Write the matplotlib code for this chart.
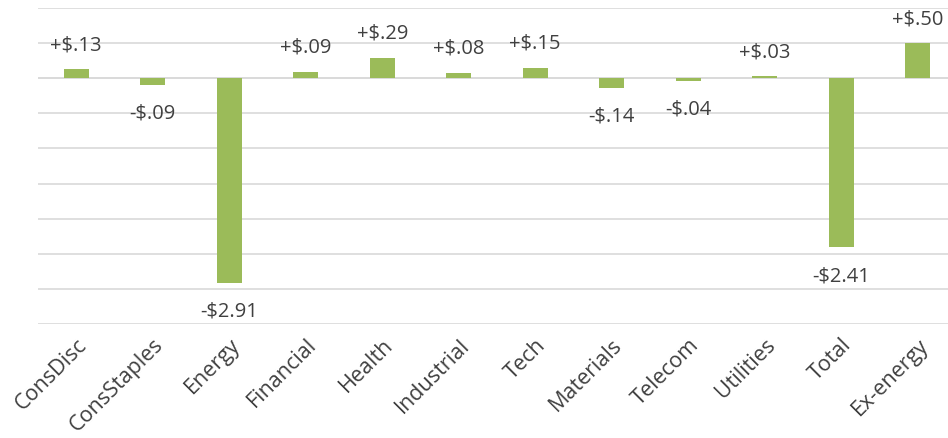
import numpy as np
import matplotlib.pyplot as plt

sectors = ["ConsDisc", "ConsStaples", "Energy", "Financial", "Health", "Industrial",
           "Tech", "Materials", "Telecom", "Utilities", "Total", "Ex-energy"]
eps_change = [0.13, -0.09, -2.91, 0.09, 0.29, 0.08, 0.15, -0.14, -0.04, 0.03, -2.41, 0.50]
labels = ["+$.13", "-$.09", "-$2.91", "+$.09", "+$.29", "+$.08",
          "+$.15", "-$.14", "-$.04", "+$.03", "-$2.41", "+$.50"]

green = "#9BBB59"
text_color = "#404040"
grid_color = "#D9D9D9"

plt.rcParams["font.family"] = ["Open Sans", "DejaVu Sans"]

fig = plt.figure(figsize=(9.48, 4.39), dpi=100)
ax = fig.add_axes([38 / 948, 114 / 439, 918 / 948, 316 / 439])

x = np.arange(len(sectors))
ax.bar(x, eps_change, width=0.33, color=green, zorder=3)

for xi, v, lab in zip(x, eps_change, labels):
    dy = 18 if v >= 0 else -20
    ax.annotate(lab, (xi, v), xytext=(0, dy), textcoords="offset points",
                ha="center", va="center", fontsize=14.5, color=text_color)

ax.set_xlim(-0.5, len(sectors) - 0.5)
ax.set_ylim(-3.5, 1.0)
ax.set_yticks(np.arange(-3.5, 1.01, 0.5))
ax.yaxis.grid(True, color=grid_color, linewidth=1.2, zorder=0)
ax.tick_params(axis="y", left=False, labelleft=False)
ax.tick_params(axis="x", length=0, pad=7)
ax.set_xticks(x)
ax.set_xticklabels(sectors, rotation=45, ha="right", rotation_mode="anchor",
                   fontsize=15.5, color=text_color)
for side in ["top", "right", "left", "bottom"]:
    ax.spines[side].set_visible(False)
ax.axhline(0, color=grid_color, linewidth=1.2, zorder=1)

fig.savefig("out.png", dpi=100)
